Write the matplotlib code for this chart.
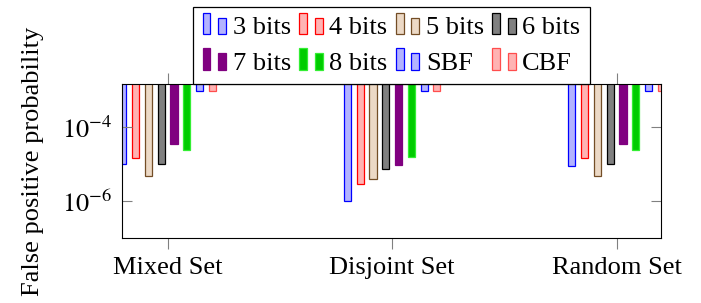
import numpy as np
import matplotlib
matplotlib.use('Agg')
import matplotlib.pyplot as plt
from matplotlib.legend_handler import HandlerBase
from matplotlib.patches import Rectangle

# datos (escala log)
groups = ['Mixed Set', 'Disjoint Set', 'Random Set']
labels = ['3 bits', '4 bits', '5 bits', '6 bits', '7 bits', '8 bits', 'SBF', 'CBF']

bits3 = [1.0e-5, 1.0e-6, 9.0e-6]
bits4 = [1.5e-5, 3.0e-6, 1.5e-5]
bits5 = [4.9e-6, 4.0e-6, 4.9e-6]
bits6 = [1.0e-5, 7.3e-6, 1.0e-5]
bits7 = [3.5e-5, 9.8e-6, 3.5e-5]
bits8 = [2.5e-5, 1.6e-5, 2.5e-5]
sbf = [1.0e-3, 1.0e-3, 1.0e-3]
cbf = [1.0e-3, 1.0e-3, 1.0e-3]

series = [bits3, bits4, bits5, bits6, bits7, bits8, sbf, cbf]

fills = ['#b3b3ff', '#ffb3b3', '#ecd9c6', '#808080', '#800080', '#00cc00', '#b3b3ff', '#ffb3b3']
edges = ['#0000ff', '#ff0000', '#734d26', '#000000', '#800080', '#33ee33', '#0000ff', '#ff4d4d']

plt.rcParams['font.family'] = ['Liberation Serif', 'DejaVu Serif']
plt.rcParams['mathtext.fontset'] = 'stix'
FS = 19


class TwoBars(HandlerBase):
    # leyenda estilo pgfplots: dos barritas
    def create_artists(self, legend, orig, xd, yd, width, height, fontsize, trans):
        fc = orig.get_facecolor()
        ec = orig.get_edgecolor()
        lw = orig.get_linewidth()
        r1 = Rectangle((-xd, -yd), 0.3 * fontsize, 0.82 * fontsize, facecolor=fc, edgecolor=ec, linewidth=lw)
        r2 = Rectangle((-xd + 0.6 * fontsize, -yd), 0.3 * fontsize, 0.62 * fontsize, facecolor=fc, edgecolor=ec, linewidth=lw)
        r1.set_transform(trans)
        r2.set_transform(trans)
        return [r1, r2]


def create_chart():
    fig = plt.figure(figsize=(7.01, 3.03), dpi=100)
    ax = fig.add_axes([0.174, 0.2145, 0.769, 0.5083])
    x = np.arange(len(groups))
    step = 0.057
    width = 0.032
    handles = []
    for i, vals in enumerate(series):
        vals = np.array(vals)
        # barras colgando desde 1 (origen del eje log) hasta el valor
        bars = ax.bar(x + (i - 3.5) * step, 1 - vals, bottom=vals, width=width,
                      color=fills[i], edgecolor=edges[i], linewidth=0.9, label=labels[i])
        handles.append(bars.patches[0])

    ax.set_yscale('log')
    ax.set_ylim(1e-7, 1.51e-3)
    ax.set_xlim(-0.2035, 2.198)
    ax.set_yticks([1e-6, 1e-4])
    ax.set_yticklabels([r'$10^{-6}$', r'$10^{-4}$'])
    ax.minorticks_off()
    ax.set_xticks(x)
    ax.set_xticklabels(groups)
    ax.tick_params(axis='y', direction='in', left=True, right=True, length=7,
                   width=0.8, color='#808080', labelsize=FS, pad=7)
    ax.tick_params(axis='x', direction='out', bottom=True, top=True, length=8,
                   width=0.8, color='#808080', labelsize=FS, pad=6)
    for s in ax.spines.values():
        s.set_linewidth(0.8)
    ax.set_ylabel('False positive probability', fontsize=FS, labelpad=13)

    # la leyenda se llena por columnas, reordenar para que quede por filas
    order = [0, 4, 1, 5, 2, 6, 3, 7]
    ax.legend([handles[k] for k in order], [labels[k] for k in order],
              handler_map={Rectangle: TwoBars()}, ncol=4,
              loc='lower center', bbox_to_anchor=(0.5, 1.0), borderaxespad=0,
              fontsize=FS, frameon=True, fancybox=False, framealpha=1,
              edgecolor='black', borderpad=0.35, labelspacing=0.45,
              handlelength=0.9, handletextpad=0.25, columnspacing=0.3)
    ax.get_legend().get_frame().set_linewidth(0.9)

    fig.savefig('out.png', dpi=100)


create_chart()
